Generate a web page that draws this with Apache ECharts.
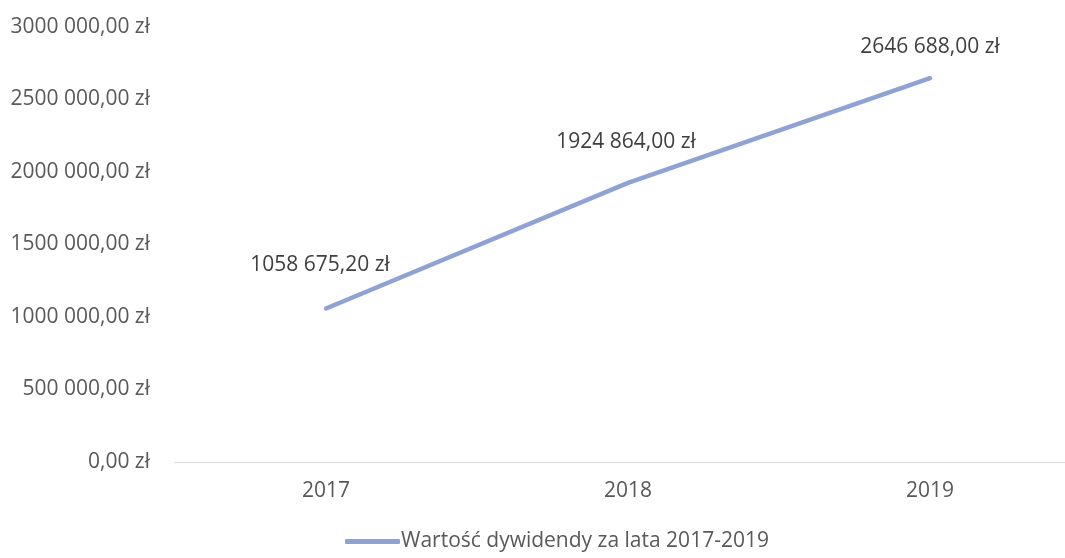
<!DOCTYPE html>
<html lang="pl">
<head>
    <meta charset="UTF-8">
    <title>Wartość dywidendy</title>
    <script src="https://cdn.jsdelivr.net/npm/echarts@6/dist/echarts.min.js"></script>
    <style>
        html, body { margin: 0; padding: 0; background: #fff; }
        #echart { width: 1065px; height: 558px; }
    </style>
</head>
<body>
<div id="echart"></div>
<script>
    var years = ['2017', '2018', '2019'];
    var dividends = [1058675.20, 1924864.00, 2646688.00];
    var seriesName = 'Wartość dywidendy za lata 2017-2019';

    // format like "3000 000,00 zł" (only last thousand group separated)
    function fmtZl(v) {
        var parts = v.toFixed(2).split('.');
        var intPart = parts[0];
        if (intPart.length > 3) {
            intPart = intPart.slice(0, -3) + ' ' + intPart.slice(-3);
        }
        return intPart + ',' + parts[1] + ' zł';
    }

    // small nudges so labels sit where excel put them
    var labelOffsets = [[-6, -12], [-2, -10], [0, 0]];

    var lineColor = '#8FA2D4';
    var myChart = echarts.init(document.getElementById('echart'));
    var font = '"Open Sans", sans-serif';
    var option = {
        animation: false,
        textStyle: { fontFamily: font },
        grid: { left: 175, top: 27, width: 906, bottom: 96, outerBoundsMode: 'none', containLabel: false },
        legend: {
            bottom: 1,
            left: 340,
            itemWidth: 55,
            itemHeight: 5,
            itemGap: 0,
            icon: 'roundRect',
            itemStyle: { color: lineColor, opacity: 1, borderWidth: 0 },
            textStyle: { color: '#595959', fontSize: 21, fontFamily: font, padding: [0, 0, 0, -4] },
            data: [seriesName]
        },
        xAxis: {
            type: 'category',
            data: years,
            boundaryGap: true,
            axisLine: { lineStyle: { color: '#d9d9d9', width: 1 } },
            axisTick: { show: false },
            axisLabel: { color: '#595959', fontSize: 21, margin: 19 }
        },
        yAxis: {
            type: 'value',
            min: 0,
            max: 3000000,
            interval: 500000,
            splitLine: { show: false },
            axisLine: { show: false },
            axisTick: { show: false },
            axisLabel: {
                color: '#595959',
                fontSize: 21,
                margin: 25,
                formatter: function (v) { return fmtZl(v); }
            }
        },
        series: [{
            name: seriesName,
            type: 'line',
            data: dividends.map(function (v, i) {
                return { value: v, label: { offset: labelOffsets[i] } };
            }),
            symbol: 'circle',
            symbolSize: 1,
            showSymbol: true,
            lineStyle: { color: lineColor, width: 4.5, cap: 'round' },
            itemStyle: { color: 'rgba(0,0,0,0)' },
            label: {
                show: true,
                position: 'top',
                distance: 20,
                color: '#404040',
                fontSize: 21,
                formatter: function (p) { return fmtZl(p.value); }
            }
        }]
    };
    myChart.setOption(option);
</script>
</body>
</html>
